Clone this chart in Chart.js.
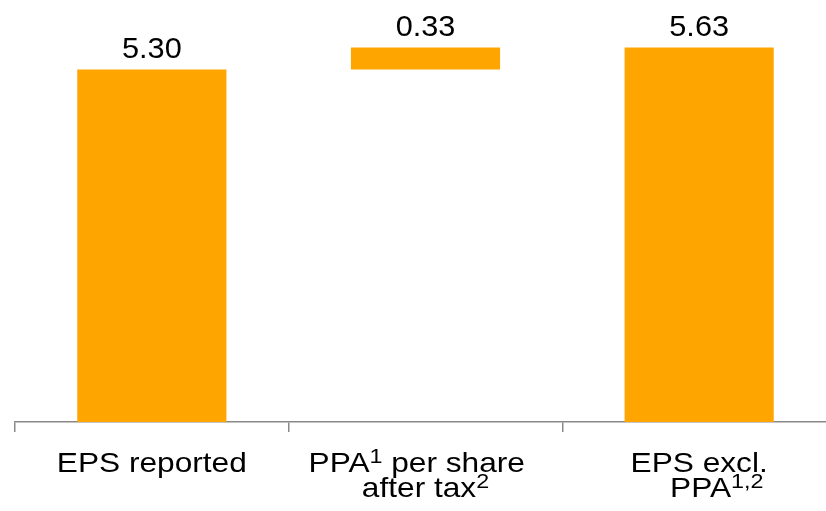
<!DOCTYPE html>
<html>
<head>
<meta charset="utf-8">
<script src="https://cdn.jsdelivr.net/npm/chart.js@4"></script>
<style>
  html, body { margin: 0; padding: 0; overflow: hidden; background: #fff; }
  #wrap { width: 836px; height: 511px; position: relative; }
</style>
</head>
<body>
<div id="wrap"><canvas id="c"></canvas></div>
<script>
// Data
const categories = [
  ["EPS reported"],
  ["PPA^{1} per share  ", "after tax^{2}"],
  ["EPS excl.", "    PPA^{1,2}"]
];
const barBases  = [0, 5.30, 0];
const barValues = [5.30, 0.33, 5.63];
const valueLabels = ["5.30", "0.33", "5.63"];

const floating = barValues.map((v, i) => [barBases[i], +(barBases[i] + v).toFixed(2)]);
const plainLabels = categories.map(lines => lines.map(l => l.replace(/\^\{([^}]*)\}/g, '$1').trim()));

const FONT = '"Liberation Sans", Arial, sans-serif';

function parseLine(str) {
  const segs = [];
  const re = /\^\{([^}]*)\}/g;
  let last = 0, m;
  while ((m = re.exec(str))) {
    if (m.index > last) segs.push({ t: str.slice(last, m.index), sup: false });
    segs.push({ t: m[1], sup: true });
    last = re.lastIndex;
  }
  if (last < str.length) segs.push({ t: str.slice(last), sup: false });
  return segs;
}

const catLabelPlugin = {
  id: 'catLabels',
  afterDraw(chart) {
    const ctx = chart.ctx;
    const xs = chart.scales.x;
    const stretch = 1.11;
    const mainF = '28.5px ' + FONT, supF = '21px ' + FONT;
    ctx.save();
    ctx.fillStyle = '#000';
    ctx.textAlign = 'left';
    ctx.textBaseline = 'alphabetic';
    categories.forEach((lines, i) => {
      const cx = xs.getPixelForValue(i);
      lines.forEach((line, li) => {
        const segs = parseLine(line);
        let w = 0;
        segs.forEach(s => { ctx.font = s.sup ? supF : mainF; s.w = ctx.measureText(s.t).width; w += s.w; });
        const by = xs.top + 50 + li * 25;
        ctx.save();
        ctx.translate(cx, by);
        ctx.scale(stretch, 1);
        let x = -w / 2;
        segs.forEach(s => {
          ctx.font = s.sup ? supF : mainF;
          ctx.fillText(s.t, x, s.sup ? -9 : 0);
          x += s.w;
        });
        ctx.restore();
      });
    });
    ctx.restore();
  }
};

const valueLabelPlugin = {
  id: 'valueLabels',
  afterDatasetsDraw(chart) {
    const ctx = chart.ctx;
    const meta = chart.getDatasetMeta(0);
    ctx.save();
    ctx.font = '29.5px ' + FONT;
    ctx.fillStyle = '#000';
    ctx.textAlign = 'center';
    ctx.textBaseline = 'alphabetic';
    meta.data.forEach((el, i) => {
      const top = Math.min(el.y, el.base);
      ctx.save();
      ctx.translate(el.x, top - 12);
      ctx.scale(1.04, 1);
      ctx.fillText(valueLabels[i], 0, 0);
      ctx.restore();
    });
    ctx.restore();
  }
};

new Chart(document.getElementById('c'), {
  type: 'bar',
  data: {
    labels: plainLabels,
    datasets: [{
      data: floating,
      backgroundColor: '#FFA500',
      borderWidth: 0,
      categoryPercentage: 1,
      barPercentage: 0.545
    }]
  },
  options: {
    responsive: true,
    maintainAspectRatio: false,
    animation: false,
    layout: { padding: { left: 15, right: 0, top: 0, bottom: 0 } },
    plugins: { legend: { display: false }, tooltip: { enabled: false } },
    scales: {
      x: {
        offset: true,
        border: { display: true, color: '#898989', width: 1.5 },
        grid: {
          offset: true,
          drawOnChartArea: false,
          drawTicks: true,
          tickLength: 10,
          color: '#898989',
          lineWidth: 1.5
        },
        ticks: { display: false },
        afterFit(scale) { scale.height = 89; }
      },
      y: {
        display: false,
        min: 0,
        max: 6.345
      }
    }
  },
  plugins: [valueLabelPlugin, catLabelPlugin]
});
</script>
</body>
</html>
